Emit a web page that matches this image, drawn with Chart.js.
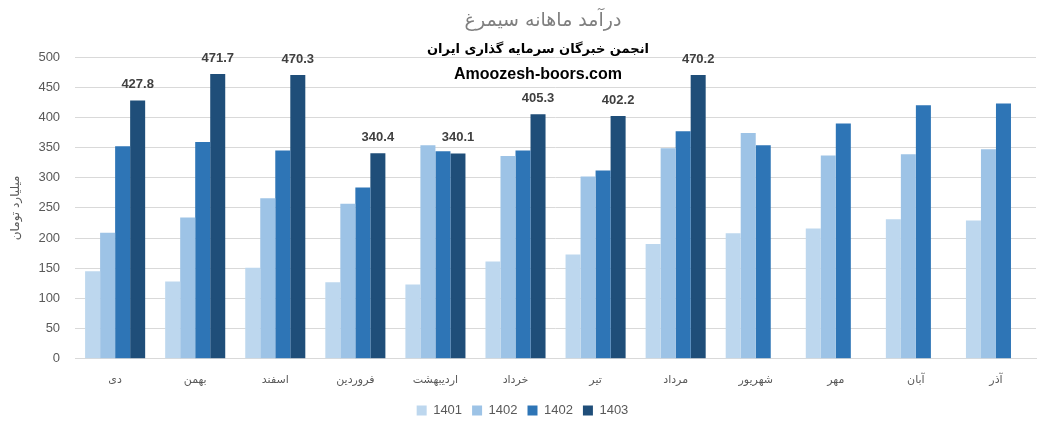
<!DOCTYPE html>
<html>
<head>
<meta charset="utf-8">
<script src="https://cdn.jsdelivr.net/npm/chart.js"></script>
<style>
  html, body { margin: 0; padding: 0; background: #fff; }
  #wrap { width: 1046px; height: 428px; }
</style>
</head>
<body>
<div id="wrap"><canvas id="chart" width="1046" height="428"></canvas></div>
<script>
const months = ['دی','بهمن','اسفند','فروردین','اردیبهشت','خرداد','تیر','مرداد','شهریور','مهر','آبان','آذر'];
const s1401 = [145, 128, 151, 127, 123, 161, 173, 190, 208, 216, 231, 229];
const s1402a = [209, 234, 266, 257, 354, 336, 302, 349, 374, 337, 339, 347];
const s1402b = [352, 359, 345, 284, 344, 345, 312, 377, 354, 390, 420, 423];
const s1403 = [427.8, 471.7, 470.3, 340.4, 340.1, 405.3, 402.2, 470.2, null, null, null, null];
const chartTitle = 'درآمد ماهانه سیمرغ';

const fontFam = '"Liberation Sans", "DejaVu Sans", sans-serif';

// عنوان، برچسب مقادیر سری 1403 و متن واترمارک
const extras = {
  id: 'extras',
  afterDatasetsDraw(chart) {
    const c = chart.ctx;
    const meta = chart.getDatasetMeta(3);
    c.save();
    c.textAlign = 'center';
    c.textBaseline = 'middle';
    c.fillStyle = '#7f7f7f';
    c.font = '19px "DejaVu Sans", sans-serif';
    c.fillText(chartTitle, 543, 21);
    c.fillStyle = '#404040';
    c.font = 'bold 13px ' + fontFam;
    meta.data.forEach((bar, i) => {
      if (s1403[i] == null) return;
      c.fillText(s1403[i].toFixed(1), bar.x, bar.y - 16);
    });
    c.fillStyle = '#000';
    c.font = 'bold 13px "DejaVu Sans", sans-serif';
    c.fillText('انجمن خبرگان سرمایه گذاری ایران', 538, 50);
    c.font = 'bold 16px ' + fontFam;
    c.fillText('Amoozesh-boors.com', 538, 75);
    c.restore();
  }
};

new Chart(document.getElementById('chart').getContext('2d'), {
  type: 'bar',
  data: {
    labels: months,
    datasets: [
      { label: '1401', data: s1401, backgroundColor: '#BDD7EE' },
      { label: '1402', data: s1402a, backgroundColor: '#9DC3E6' },
      { label: '1402', data: s1402b, backgroundColor: '#2E75B6' },
      { label: '1403', data: s1403, backgroundColor: '#1F4E79' }
    ]
  },
  options: {
    responsive: false,
    animation: false,
    categoryPercentage: 0.75,
    barPercentage: 1.0,
    layout: { padding: { left: 9, right: 10, top: 57, bottom: 1 } },
    plugins: {
      legend: {
        position: 'bottom',
        labels: {
          boxWidth: 10, boxHeight: 10,
          color: '#595959',
          font: { family: fontFam, size: 13 },
          padding: 10
        }
      },
      tooltip: { enabled: false }
    },
    scales: {
      x: {
        grid: { display: false },
        border: { color: '#d9d9d9' },
        ticks: { color: '#595959', padding: 7, font: { family: '"DejaVu Sans", sans-serif', size: 11 }, maxRotation: 0 }
      },
      y: {
        min: 0, max: 500,
        ticks: { stepSize: 50, color: '#595959', font: { family: fontFam, size: 13 }, padding: 15 },
        grid: { color: '#d9d9d9', drawTicks: false },
        border: { display: false },
        title: {
          display: true,
          text: 'میلیارد تومان',
          color: '#595959',
          padding: 0,
          font: { family: '"DejaVu Sans", sans-serif', size: 12 }
        }
      }
    }
  },
  plugins: [extras]
});
</script>
</body>
</html>
